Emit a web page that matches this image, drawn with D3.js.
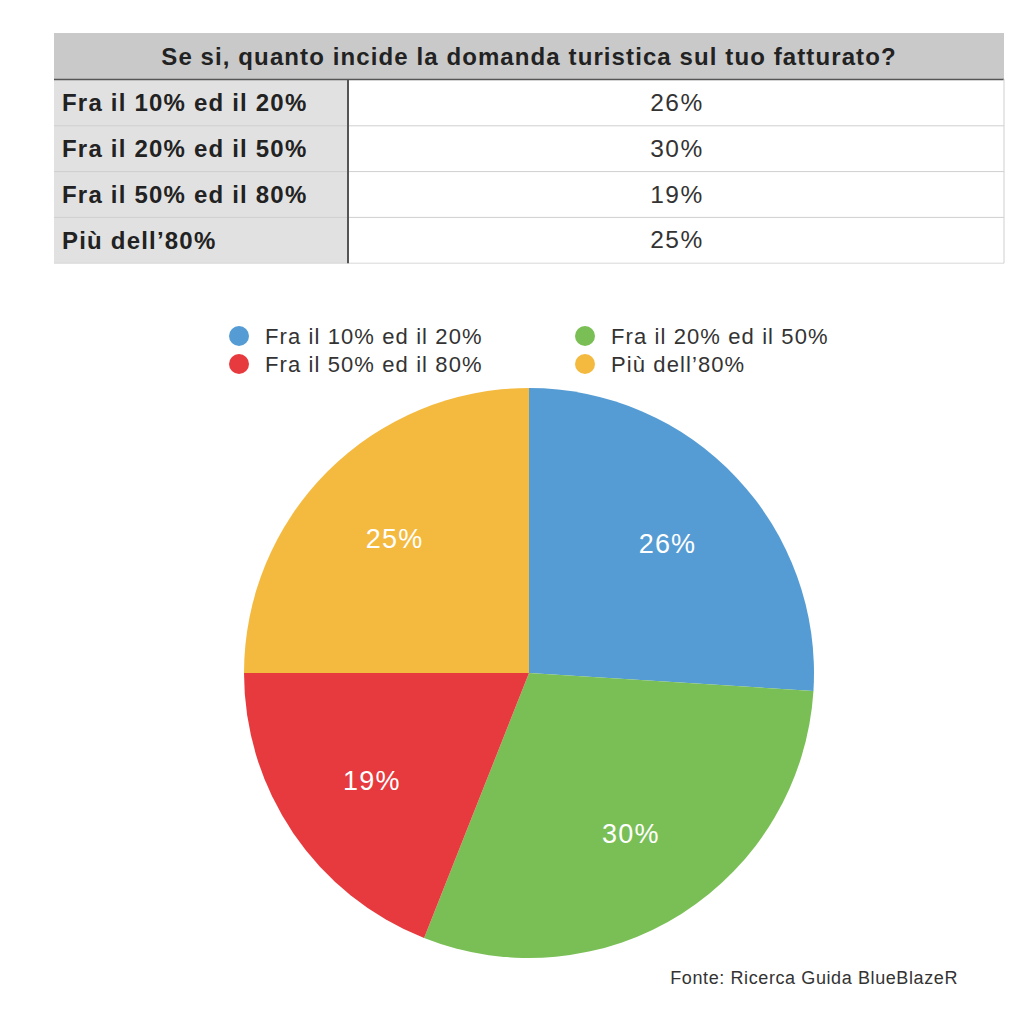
<!DOCTYPE html>
<html><head><meta charset="utf-8">
<script src="https://cdn.jsdelivr.net/npm/d3@7"></script>
<style>body{margin:0;background:#fff}svg{display:block}text{font-family:"Liberation Sans",Arial,sans-serif}</style>
</head><body><svg id="c" width="1024" height="1024"></svg>
<script>
const title = "Se si, quanto incide la domanda turistica sul tuo fatturato?";
const categories = ["Fra il 10% ed il 20%","Fra il 20% ed il 50%","Fra il 50% ed il 80%","Più dell’80%"];
const values = [26,30,19,25];
const colors = ["#559cd4","#7abf56","#e63a3e","#f4ba40"];
const source = "Fonte: Ricerca Guida BlueBlazeR";

const svg = d3.select("#c");
// Table
const tx0=54, tx1=1004, colX=348, hy0=33, hy1=79, rowH=45.8;
svg.append("rect").attr("x",tx0).attr("y",hy0).attr("width",tx1-tx0).attr("height",hy1-hy0).attr("fill","#c9c9c9");
svg.append("text").attr("x",(tx0+tx1)/2).attr("y",(hy0+hy1)/2+8.5).attr("text-anchor","middle")
  .attr("font-size",24).attr("letter-spacing",1.1).attr("font-weight","bold").attr("fill","#222").text(title);
const y = d3.scaleBand().domain(categories).range([hy1+1,hy1+1+rowH*categories.length]);
svg.append("rect").attr("x",tx0).attr("y",hy1+1).attr("width",colX-tx0).attr("height",rowH*categories.length).attr("fill","#e1e1e1");
const rows = svg.selectAll("g.row").data(categories).join("g").attr("class","row");
rows.append("line").attr("x1",tx0).attr("x2",tx1).attr("y1",d=>y(d)+y.bandwidth()).attr("y2",d=>y(d)+y.bandwidth())
  .attr("stroke",(d,i)=>i<categories.length-1?"#cfcfcf":"#d8d8d8").attr("stroke-width",1);
rows.append("text").attr("x",62).attr("y",d=>y(d)+y.bandwidth()/2+8.5).attr("font-size",24).attr("letter-spacing",1.2)
  .attr("font-weight","bold").attr("fill","#222").text(d=>d);
rows.append("text").attr("x",677).attr("y",d=>y(d)+y.bandwidth()/2+8).attr("text-anchor","middle").attr("font-size",24.5)
  .attr("letter-spacing",1.5).attr("fill","#333").text((d,i)=>values[i]+"%");
svg.append("line").attr("x1",tx0).attr("x2",tx1).attr("y1",hy1+0.5).attr("y2",hy1+0.5).attr("stroke","#555").attr("stroke-width",1.5);
svg.append("line").attr("x1",colX).attr("x2",colX).attr("y1",hy1).attr("y2",hy1+1+rowH*categories.length).attr("stroke","#555").attr("stroke-width",2);
svg.append("line").attr("x1",tx1).attr("x2",tx1).attr("y1",hy1).attr("y2",hy1+1+rowH*categories.length).attr("stroke","#d0d0d0").attr("stroke-width",1);

// Legend
const legPos = [[239,336],[585,336],[239,364],[585,364]];
const leg = svg.selectAll("g.leg").data(categories).join("g").attr("class","leg")
  .attr("transform",(d,i)=>`translate(${legPos[i][0]},${legPos[i][1]})`);
leg.append("circle").attr("r",10).attr("fill",(d,i)=>colors[i]);
leg.append("text").attr("x",26).attr("y",8).attr("font-size",22).attr("letter-spacing",1.1).attr("fill","#333").text(d=>d);

// Pie
const cx=529, cy=673, R=285;
const pie = d3.pie().sort(null).value(d=>d);
const arc = d3.arc().innerRadius(0).outerRadius(R);
const lab = d3.arc().innerRadius(190).outerRadius(190);
const g = svg.append("g").attr("transform",`translate(${cx},${cy})`);
const arcs = pie(values);
g.selectAll("path").data(arcs).join("path").attr("d",arc).attr("fill",(d,i)=>colors[i]);
g.selectAll("text").data(arcs).join("text").attr("transform",d=>`translate(${lab.centroid(d)})`)
  .attr("dy","0.36em").attr("text-anchor","middle").attr("font-size",27).attr("letter-spacing",1.2).attr("fill","#fff").text(d=>d.data+"%");

svg.append("text").attr("x",958).attr("y",984).attr("text-anchor","end").attr("font-size",18).attr("letter-spacing",0.6).attr("fill","#333").text(source);
</script></body></html>
